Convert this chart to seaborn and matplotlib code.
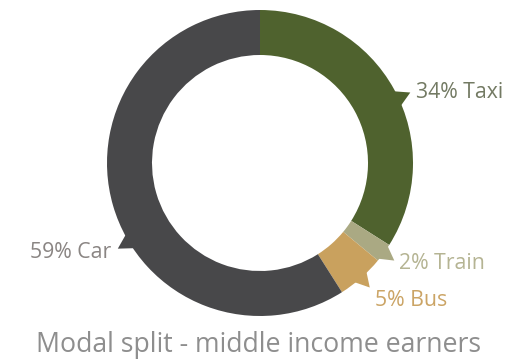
import numpy as np
import matplotlib
matplotlib.use("Agg")
import matplotlib.pyplot as plt
from matplotlib.patches import Polygon
import seaborn as sns

modes = ["Taxi", "Train", "Bus", "Car"]
shares = [34, 2, 5, 59]
slice_colors = ["#4f622e", "#aaa983", "#c9a15e", "#48484a"]
label_colors = ["#737a63", "#b5b493", "#cba465", "#8a8583"]
title = "Modal split - middle income earners"

sns.set_theme(style="white")
plt.rcParams["font.family"] = ["Open Sans", "DejaVu Sans"]

W, H = 519, 359
fig = plt.figure(figsize=(W / 100, H / 100), dpi=100)
ax = fig.add_axes([0, 0, 1, 1])

cx, cy = 260, H - 163
r_out, r_in = 153, 108

ax.pie(shares, colors=slice_colors, startangle=90, counterclock=False,
       radius=r_out, center=(cx, cy), frame=True,
       wedgeprops=dict(width=r_out - r_in, edgecolor="none", linewidth=0))
ax.set_xlim(0, W)
ax.set_ylim(0, H)
ax.set_aspect("equal")
ax.axis("off")

# where each callout sits inside its slice (fraction of the slice span)
anchor_frac = [0.53, 0.5, 0.5, 0.43]
side = [1, 1, 1, -1]
# text position relative to the callout tip (pixels, y up)
text_offset = [(6, 0), (5, -3), (5, -13), (-7, -4)]

start = 0.0
total = float(sum(shares))


def pt(a, r):
    t = np.radians(a)
    return cx + r * np.sin(t), cy + r * np.cos(t)


for name, v, col, tcol, f, s, off in zip(modes, shares, slice_colors,
                                          label_colors, anchor_frac, side,
                                          text_offset):
    span = v / total * 360.0
    ang = start + f * span  # clockwise from 12 o'clock
    start += span
    b1 = pt(ang - 3.5, r_out - 3)
    b2 = pt(ang + 3.5, r_out - 3)
    tip = pt(ang, r_out + 13)
    ax.add_patch(Polygon([b1, tip, b2], closed=True, facecolor=col,
                         edgecolor="none"))
    ax.text(tip[0] + off[0], tip[1] + off[1], f"{v}% {name}", color=tcol,
            fontsize=15.3, ha="left" if s > 0 else "right", va="center")

ax.text(W / 2 - 1, 14, title, color="#8e8e8e", fontsize=19.2,
        ha="center", va="center")

fig.savefig("out.png", dpi=100)
